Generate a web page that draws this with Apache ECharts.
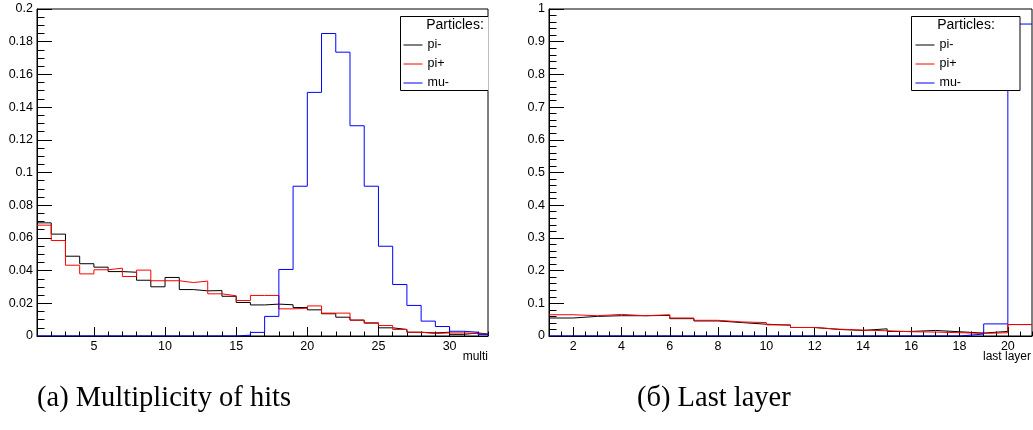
<!DOCTYPE html>
<html><head><meta charset="utf-8">
<script src="https://cdn.jsdelivr.net/npm/echarts@6/dist/echarts.min.js"></script>
<style>html,body{margin:0;padding:0;background:#fff}#c{width:1033px;height:430px}</style>
</head><body><div id="c"></div>
<script>
// ---- data ----
const seriesNames = ['pi-', 'pi+', 'mu-'];
const seriesColors = ['#000000', '#ff0000', '#0000ff'];

// (a) multiplicity of hits: bin edges and bin contents
const multiEdges = [1,2,3,4,5,6,7,8,9,10,11,12,13,14,15,16,17,18,19,20,21,22,23,24,25,26,27,28,29,30,31,32,33];
const multiPiMinus = [0.0692,0.0623,0.0488,0.0442,0.0421,0.0394,0.0390,0.0341,0.0301,0.0358,0.0284,0.0276,0.0278,0.0243,0.0205,0.0190,0.0195,0.0191,0.0174,0.0160,0.0136,0.0115,0.0097,0.0079,0.0050,0.0040,0.0023,0.0019,0.0023,0.0010,0.0019,0.0008];
const multiPiPlus  = [0.0678,0.0584,0.0433,0.0380,0.0405,0.0415,0.0364,0.0403,0.0338,0.0338,0.0327,0.0336,0.0258,0.0246,0.0217,0.0248,0.0248,0.0166,0.0170,0.0184,0.0140,0.0140,0.0097,0.0081,0.0064,0.0040,0.0023,0.0015,0.0019,0.0019,0.0015,0.0008];
const multiMuMinus = [0,0,0,0,0,0,0,0,0,0,0,0,0,0,0.0005,0.0022,0.0120,0.0407,0.0916,0.1490,0.1850,0.1736,0.1286,0.0916,0.0549,0.0315,0.0187,0.0091,0.0058,0.0029,0.0023,0.0010];
const multiXTicks = [5,10,15,20,25,30];

// (b) last layer
const layerEdges = [1,2,3,4,5,6,7,8,9,10,11,12,13,14,15,16,17,18,19,20,21];
const layerPiMinus = [0.055,0.060,0.062,0.062,0.063,0.053,0.046,0.041,0.036,0.033,0.026,0.020,0.017,0.022,0.014,0.017,0.013,0.009,0.014,0.035];
const layerPiPlus  = [0.065,0.062,0.066,0.062,0.065,0.055,0.048,0.043,0.041,0.034,0.026,0.021,0.018,0.016,0.013,0.012,0.010,0.008,0.010,0.035];
const layerMuMinus = [0,0,0,0,0,0,0,0,0,0,0,0,0,0,0,0,0,0.006,0.037,0.954];
const layerXTicks = [2,4,6,8,10,12,14,16,18,20];

const axisTitles = ['multi', 'last layer'];
const legendTitle = 'Particles:';
const captions = ['(a) Multiplicity of hits', '(б) Last layer'];

// ---- build ----
function steps(edges, vals) {
  const d = vals.map((v, i) => [edges[i], v]);
  d.push([edges[vals.length], vals[vals.length - 1]]);
  return d;
}
const SANS = 'Liberation Sans';
const black = '#000';

function majorX(grid, min, max, ticks) {
  return {
    type: 'value', gridIndex: grid, min: min, max: max, position: 'bottom',
    axisLine: { show: true, lineStyle: { color: black, width: 1 } },
    axisTick: { show: true, inside: true, length: 9, customValues: ticks, lineStyle: { color: black } },
    axisLabel: { show: true, customValues: ticks, margin: 4, fontSize: 12.5, fontFamily: SANS, color: black },
    splitLine: { show: false }
  };
}
function minorX(grid, min, max, step) {
  return {
    type: 'value', gridIndex: grid, min: min, max: max, interval: step, position: 'bottom',
    axisLine: { show: false }, axisLabel: { show: false }, splitLine: { show: false },
    axisTick: { show: true, inside: true, length: 4.5, lineStyle: { color: black } }
  };
}
function yAx(grid, max, interval, minorSplit) {
  return {
    type: 'value', gridIndex: grid, min: 0, max: max, interval: interval,
    axisLine: { show: true, lineStyle: { color: black, width: 1 } },
    axisTick: { show: true, inside: true, length: 15, lineStyle: { color: black } },
    minorTick: { show: true, splitNumber: minorSplit, length: 7.5, lineStyle: { color: black } },
    axisLabel: { margin: 4, fontSize: 12.5, fontFamily: SANS, color: black },
    splitLine: { show: false }, minorSplitLine: { show: false }
  };
}

const multiSets = [multiPiMinus, multiPiPlus, multiMuMinus];
const layerSets = [layerPiMinus, layerPiPlus, layerMuMinus];
const series = [];
multiSets.forEach((vals, i) => series.push({
  type: 'line', name: seriesNames[i], step: 'end', symbol: 'none', xAxisIndex: 0, yAxisIndex: 0,
  data: steps(multiEdges, vals), lineStyle: { color: seriesColors[i], width: 1 }, itemStyle: { color: seriesColors[i] }, z: 2 + i
}));
layerSets.forEach((vals, i) => series.push({
  type: 'line', name: seriesNames[i], step: 'end', symbol: 'none', xAxisIndex: 2, yAxisIndex: 1,
  data: steps(layerEdges, vals), lineStyle: { color: seriesColors[i], width: 1 }, itemStyle: { color: seriesColors[i] }, z: 2 + i
}));

function legend(left) {
  return {
    left: left, top: 38.5, orient: 'vertical', padding: 0, itemWidth: 19, itemHeight: 12, itemGap: 6,
    data: seriesNames, selectedMode: false, z: 20,
    itemStyle: { opacity: 0 },
    lineStyle: { width: 1 },
    textStyle: { fontSize: 12.5, fontFamily: SANS, color: black }
  };
}
function axisTitle(text, right) {
  return { type: 'text', z: 12, x: right, y: 351, style: { text: text, fontSize: 12, fontFamily: SANS, fill: black, align: 'right', verticalAlign: 'top' } };
}

const chart = echarts.init(document.getElementById('c'));
chart.setOption({
  animation: false,
  backgroundColor: '#fff',
  title: [
    { text: captions[0], left: 37, top: 384, padding: 0, textStyle: { fontFamily: 'Liberation Serif', fontWeight: 'normal', fontSize: 28.5, color: black } },
    { text: captions[1], left: 637, top: 384, padding: 0, textStyle: { fontFamily: 'Liberation Serif', fontWeight: 'normal', fontSize: 28.5, color: black } }
  ],
  grid: [
    { left: 37, top: 9, width: 451, height: 327, show: true, borderColor: black, borderWidth: 1, backgroundColor: 'transparent', outerBoundsMode: 'none', containLabel: false },
    { left: 549, top: 9, width: 483, height: 327, show: true, borderColor: black, borderWidth: 1, backgroundColor: 'transparent', outerBoundsMode: 'none', containLabel: false }
  ],
  xAxis: [
    majorX(0, 1, 32.7, multiXTicks),
    minorX(0, 1, 32.7, 1),
    majorX(1, 1, 21, layerXTicks),
    minorX(1, 1, 21, 0.5)
  ],
  yAxis: [ yAx(0, 0.2, 0.02, 4), yAx(1, 1, 0.1, 5) ],
  legend: [ legend(403), legend(915) ],
  graphic: [
    { type: 'rect', z: 10, shape: { x: 400.5, y: 16.5, width: 88, height: 74 }, style: { fill: '#fff', stroke: null } },
    { type: 'polyline', z: 11, shape: { points: [[488, 16.5], [400.5, 16.5], [400.5, 90.5], [488, 90.5]] }, style: { stroke: black, lineWidth: 1, fill: null } },
    { type: 'text', z: 12, x: 455, y: 25, style: { text: legendTitle, fontSize: 14, fontFamily: SANS, fill: black, align: 'center', verticalAlign: 'middle' } },
    { type: 'rect', z: 10, shape: { x: 911.5, y: 16.5, width: 108.5, height: 74 }, style: { fill: '#fff', stroke: black, lineWidth: 1 } },
    { type: 'text', z: 12, x: 966, y: 25, style: { text: legendTitle, fontSize: 14, fontFamily: SANS, fill: black, align: 'center', verticalAlign: 'middle' } },
    axisTitle(axisTitles[0], 488),
    axisTitle(axisTitles[1], 1031)
  ],
  series: series
});
</script></body></html>
